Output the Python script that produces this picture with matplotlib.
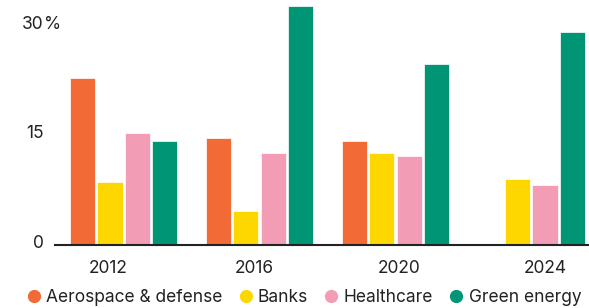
import matplotlib
matplotlib.use('Agg')
import matplotlib.pyplot as plt
import matplotlib.transforms as mtransforms
import numpy as np
from matplotlib.lines import Line2D

plt.rcParams['font.family'] = ['Inter', 'DejaVu Sans']

years = ['2012', '2016', '2020', '2024']
series = ['Aerospace & defense', 'Banks', 'Healthcare', 'Green energy']
aerospace = [23.0, 14.7, 14.3, np.nan]
banks = [8.7, 4.7, 12.6, 9.1]
healthcare = [15.4, 12.7, 12.2, 8.2]
green = [14.3, 32.9, 24.9, 29.3]
colors = ['#F26A35', '#FFD700', '#F29CB5', '#009675']

values = [aerospace, banks, healthcare, green]

fig = plt.figure(figsize=(5.89, 3.08), dpi=100)
ax = fig.add_axes([55 / 589, 63 / 308, 534 / 589, 245 / 308])

x = np.arange(len(years))
step = 0.2
w = 0.185
for i, (vals, c) in enumerate(zip(values, colors)):
    ax.bar(x + (i - 1.5) * step, vals, w, color=c, edgecolor='white', linewidth=0.5)

ax.set_xlim(-0.504, 3.423)
ax.set_ylim(0, 33.7)

fs = 12.5
# ticks
ax.set_yticks([0, 15, 30], labels=['0', '15', '30'])
ax.set_xticks(x * 1.07 - 0.11, labels=years)
ax.tick_params(axis='both', length=0, labelsize=fs, colors='#222222')
ax.tick_params(axis='y', pad=8)
ax.tick_params(axis='x', pad=11)
off = mtransforms.ScaledTranslation(0, 4 / 100, fig.dpi_scale_trans)
for lab in ax.get_yticklabels():
    lab.set_transform(lab.get_transform() + off)
pct_tr = mtransforms.blended_transform_factory(fig.transFigure, ax.transData) + off
ax.text(44 / 589, 30, '%', transform=pct_tr,
        fontsize=fs, color='#222222', ha='left', va='center_baseline')

for s in ['top', 'right', 'left']:
    ax.spines[s].set_visible(False)
ax.spines['bottom'].set_linewidth(1.5)
ax.spines['bottom'].set_color('#222222')

handles = [Line2D([], [], marker='o', linestyle='', markersize=8.5, color=c) for c in colors]
fig.legend(handles, series, loc='center left', bbox_to_anchor=(25 / 589, 10 / 308),
           ncol=4, frameon=False, fontsize=12.5, handletextpad=0.2, columnspacing=0.85,
           borderaxespad=0, borderpad=0, handlelength=1.0, labelcolor='#222222')

fig.savefig('out.png', dpi=100)
